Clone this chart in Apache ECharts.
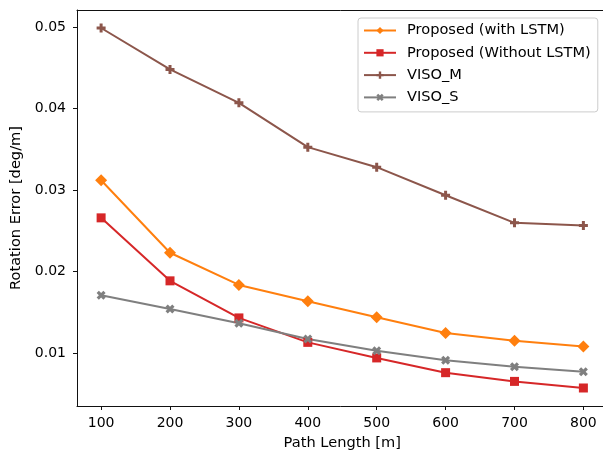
<!DOCTYPE html>
<html>
<head>
<meta charset="utf-8">
<script src="https://cdn.jsdelivr.net/npm/echarts@6/dist/echarts.min.js"></script>
<style>html,body{margin:0;padding:0;background:#fff}#c{width:603px;height:452px}</style>
</head>
<body>
<div id="c"></div>
<script>
const pathLengths = [100, 200, 300, 400, 500, 600, 700, 800];
const withLSTM = [0.0312, 0.0223, 0.01835, 0.01634, 0.01437, 0.01246, 0.01151, 0.0108];
const withoutLSTM = [0.02658, 0.01885, 0.0143, 0.0113, 0.00939, 0.00758, 0.00651, 0.0057];
const visoM = [0.04988, 0.0448, 0.0407, 0.03526, 0.0328, 0.02936, 0.02597, 0.02564];
const visoS = [0.01707, 0.0154, 0.01364, 0.01172, 0.01028, 0.0091, 0.00832, 0.0077];
const yTicks = [0.01, 0.02, 0.03, 0.04, 0.05];
const xTicks = [100, 200, 300, 400, 500, 600, 700, 800];
const seriesNames = ['Proposed (with LSTM)', 'Proposed (Without LSTM)', 'VISO_M', 'VISO_S'];

const FONT = 'DejaVu Sans';
const FS_TICK = 14;
const FS_TEXT = 14.6;
const pair = arr => pathLengths.map((x, i) => [x, arr[i]]);
const plusPath = 'path://M1,0H2V1H3V2H2V3H1V2H0V1H1Z';
const xPath = 'path://M0,1L1,0L2,1L3,0L4,1L3,2L4,3L3,4L2,3L1,4L0,3L1,2Z';

function mk(name, data, color, symbol, size) {
  return {
    name, type: 'line', data: pair(data), xAxisIndex: 0, yAxisIndex: 0,
    symbol, symbolSize: size, showSymbol: true,
    lineStyle: { color, width: 2 },
    itemStyle: { color, borderWidth: 0 },
    emphasis: { disabled: true },
    animation: false
  };
}

const chart = echarts.init(document.getElementById('c'), null, { renderer: 'canvas' });
chart.setOption({
  backgroundColor: '#fff',
  animation: false,
  textStyle: { fontFamily: FONT },
  grid: { left: 77, top: 10, width: 530.5, bottom: 46, containLabel: false, outerBoundsMode: 'none', show: false },
  xAxis: [{
    type: 'value', min: 65, max: 835,
    name: 'Path Length [m]', nameLocation: 'middle', nameGap: 30,
    nameTextStyle: { fontFamily: FONT, fontSize: FS_TEXT, color: '#000' },
    axisLine: { show: true, onZero: false, lineStyle: { color: '#111', width: 1 } },
    axisTick: { show: true, length: 4, customValues: xTicks, lineStyle: { color: '#111' } },
    axisLabel: { customValues: xTicks, margin: 10, fontFamily: FONT, fontSize: FS_TICK, color: '#000' },
    splitLine: { show: false }
  }, {
    type: 'value', position: 'top', min: 65, max: 835,
    axisLine: { show: true, onZero: false, lineStyle: { color: '#111', width: 1 } },
    axisTick: { show: false }, axisLabel: { show: false }, splitLine: { show: false }
  }],
  yAxis: {
    type: 'value', min: 0.00349, max: 0.05209,
    name: 'Rotation Error [deg/m]', nameLocation: 'middle', nameGap: 46,
    nameTextStyle: { fontFamily: FONT, fontSize: FS_TEXT, color: '#000' },
    axisLine: { show: true, onZero: false, lineStyle: { color: '#111', width: 1 } },
    axisTick: { show: true, length: 4, customValues: yTicks, lineStyle: { color: '#111' } },
    axisLabel: { customValues: yTicks, margin: 11, fontFamily: FONT, fontSize: FS_TICK, color: '#000',
      formatter: v => v.toFixed(2) },
    splitLine: { show: false }
  },
  legend: {
    orient: 'vertical', left: 358, top: 18,
    padding: [4, 7, 6, 5],
    backgroundColor: '#fff', borderColor: '#ccc', borderWidth: 1, borderRadius: 3,
    itemWidth: 32, itemHeight: 9, itemGap: 5.3,
    textStyle: { fontFamily: FONT, fontSize: FS_TEXT, color: '#000', lineHeight: 17, padding: [0, 0, 0, 6] },
    data: seriesNames
  },
  series: [
    mk(seriesNames[0], withLSTM, '#ff7f0e', 'diamond', 12),
    mk(seriesNames[1], withoutLSTM, '#d62728', 'rect', 9),
    mk(seriesNames[2], visoM, '#8c564b', plusPath, 9),
    mk(seriesNames[3], visoS, '#7f7f7f', xPath, 9)
  ]
});
</script>
</body>
</html>
